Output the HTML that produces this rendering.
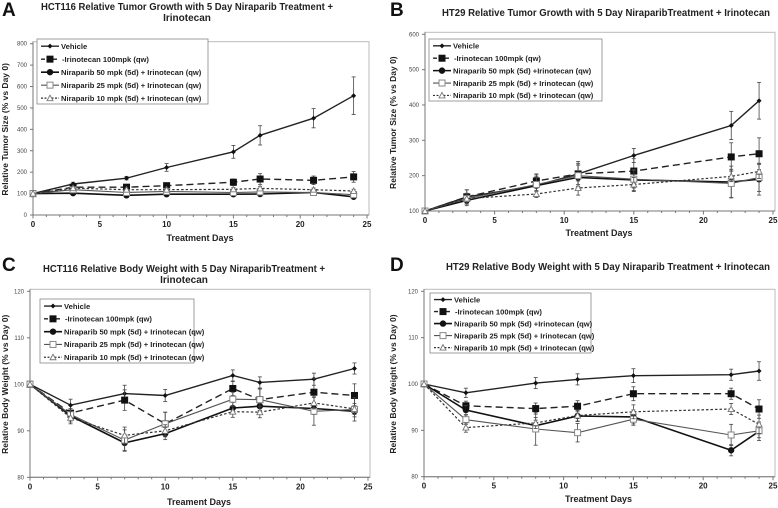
<!DOCTYPE html>
<html><head><meta charset="utf-8"><style>
html,body{margin:0;padding:0;background:#fff;}
svg{display:block;font-family:"Liberation Sans",Arial,sans-serif;}
</style></head><body>
<svg id="fig" width="778" height="508" viewBox="0 0 778 508"></svg>
<script>
// ---- Panel A data ----
const daysA = [0,3,7,10,15,17,21,24];
const aVeh = [100,145,172,222,295,372,452,557];
const aIri = [100,130,130,137,153,168,162,178];
const aN50 = [100,102,92,97,97,98,105,85];
const aN25 = [100,118,105,110,105,108,105,95];
const aN10 = [100,125,118,118,120,124,118,112];
const aVehErr = [0,8,8,18,30,45,45,88];
const aIriErr = [0,10,10,10,15,25,20,25];
const aSmallErr = [0,8,8,8,8,10,8,8];
const aYTicks = [0,100,200,300,400,500,600,700,800];
// ---- Panel B data ----
const daysB = [0,3,8,11,15,22,24];
const bVeh = [100,140,172,205,257,342,412];
const bIri = [100,140,185,205,213,253,262];
const bN50 = [100,130,172,195,188,182,190];
const bN25 = [100,135,175,200,190,178,195];
const bN10 = [100,135,148,165,175,198,212];
const bVehErr = [0,20,30,35,20,40,52];
const bIriErr = [0,20,20,30,35,40,45];
const bN50Err = [0,15,25,35,30,45,45];
const bN25Err = [0,15,20,30,25,40,40];
const bN10Err = [0,15,10,20,20,15,20];
const bYTicks = [100,200,300,400,500,600];
// ---- Panel C data ----
const daysC = [0,3,7,10,15,17,21,24];
const cVeh = [100,95.5,98,97.6,101.9,100.4,101.1,103.4];
const cIri = [100,93.8,96.6,91.5,99.1,96.7,98.3,97.6];
const cN50 = [100,93.2,87.4,89.4,94.9,95.3,94.8,94.2];
const cN25 = [100,93.5,88,91.5,96.8,96.7,94.2,94.6];
const cN10 = [100,92.8,89,90,94.1,94,96,94.7];
const cErr = [0,1.3,1.8,1.3,1.2,1.2,1.3,1.2];
const cErr2 = [0,1,2.2,2.5,1.5,2.3,3,2.5];
// ---- Panel D data ----
const daysD = [0,3,8,11,15,22,24];
const dVeh = [100,98.1,100.2,101,101.8,102,102.8];
const dIri = [100,95.3,94.7,95.2,97.9,97.9,94.6];
const dN50 = [100,94.4,91,93.1,92.9,85.7,89.8];
const dN25 = [100,92.3,90.3,89.5,92.4,89,89.9];
const dN10 = [100,90.6,91.6,93.2,94,94.6,91.3];
const dErr = [0,1,1.2,1.2,1.5,1.2,2];
const dErr2 = [0,1,3.5,2,1.3,2.3,1.5];
const bwYTicks = [80,90,100,110,120];
const xTicks = [0,5,10,15,20,25];
const legendLabels = ["Vehicle","Irinotecan 100mpk (qw)","Niraparib 50 mpk (5d) + Irinotecan (qw)","Niraparib 25 mpk (5d) + Irinotecan (qw)","Niraparib 10 mpk (5d) + Irinotecan (qw)"];
const legendLabelsBD = ["Vehicle","Irinotecan 100mpk (qw)","Niraparib 50 mpk (5d) +Irinotecan (qw)","Niraparib 25 mpk (5d) + Irinotecan (qw)","Niraparib 10 mpk (5d) + Irinotecan (qw)"];

const NS="http://www.w3.org/2000/svg";
const svg=document.getElementById('fig');
function mk(tag,attrs,parent,text){const e=document.createElementNS(NS,tag);for(const k in attrs)e.setAttribute(k,attrs[k]);if(text!==undefined)e.textContent=text;(parent||svg).appendChild(e);return e;}

const styles=[
 {stroke:"#222",w:1.4,dash:"",marker:"diamond"},
 {stroke:"#222",w:1.4,dash:"7,4",marker:"square"},
 {stroke:"#111",w:1.6,dash:"",marker:"circle"},
 {stroke:"#555",w:1.1,dash:"",marker:"opensq"},
 {stroke:"#333",w:1.2,dash:"2.5,2",marker:"tri"}];

function marker(g,type,x,y){
  if(type==="diamond")return mk('path',{d:`M${x} ${y-2.5}L${x+2.5} ${y}L${x} ${y+2.5}L${x-2.5} ${y}Z`,fill:"#111"},g);
  if(type==="square")return mk('rect',{x:x-3.5,y:y-3.5,width:7,height:7,fill:"#111"},g);
  if(type==="circle")return mk('circle',{cx:x,cy:y,r:3.2,fill:"#111"},g);
  if(type==="opensq")return mk('rect',{x:x-3,y:y-3,width:6,height:6,fill:"#fff",stroke:"#888","stroke-width":1},g);
  return mk('path',{d:`M${x} ${y-3}L${x+3} ${y+2.5}L${x-3} ${y+2.5}Z`,fill:"#fff",stroke:"#777","stroke-width":0.9},g);
}

function panel(p){
  const g=mk('g',{});
  
  
  const sx=v=>p.x0+(v-0)/25*(p.x1-p.x0);
  const sy=v=>p.yb+(v-p.ymin)/(p.ymax-p.ymin)*(p.yt-p.yb);
  const fr=mk('rect',{x:sx(0),y:p.yt-2,width:p.x1-sx(0)+2,height:p.yb-p.yt+2,fill:"none",stroke:"#bbb","stroke-width":1},g);
  
  mk('line',{x1:sx(0),y1:p.yt-2,x2:sx(0),y2:p.yb,stroke:"#777","stroke-width":1},g);
  mk('line',{x1:sx(0),y1:p.yb,x2:p.x1+2,y2:p.yb,stroke:"#777","stroke-width":1},g);
  const L=mk('text',{x:p.lx,y:p.ly,"font-size":19,"font-weight":"bold",fill:"#111"},g,p.letter);
  
  p.title.forEach((t,i)=>{const a={x:p.tx,y:p.ty+i*11,"font-size":10,"font-weight":"bold","text-anchor":"middle",fill:"#222"};
    if(i===0&&p.tw){a.textLength=p.tw;a.lengthAdjust="spacingAndGlyphs";}
    const e=mk('text',a,g,t);
    });
  p.yTicks.forEach(v=>{const y=sy(v);mk('line',{x1:sx(0)-3,y1:y,x2:sx(0),y2:y,stroke:"#777"},g);
    const e=mk('text',{x:sx(0)-6,y:y+2,"font-size":6,"text-anchor":"end",fill:"#444"},g,v);
    });
  for(let d=0;d<=25;d++){const x=sx(d);mk('line',{x1:x,y1:p.yb,x2:x,y2:p.yb+(d%5?2:3.5),stroke:"#777"},g);}
  xTicks.forEach(v=>{const e=mk('text',{x:sx(v),y:p.yb+12,"font-size":8,"font-weight":"bold","text-anchor":"middle",fill:"#222"},g,v);
    });
  const xt=mk('text',{x:(sx(0)+p.x1)/2,y:p.xty,"font-size":9,"font-weight":"bold","text-anchor":"middle",fill:"#222"},g,p.xTitle);
  
  const ycx=p.ytx, ycy=(p.yt+p.yb)/2;
  const yt=mk('text',{x:ycx,y:ycy,"font-size":8.5,"font-weight":"bold","text-anchor":"middle",fill:"#222",transform:`rotate(-90 ${ycx} ${ycy})`},g,p.yTitle);
  
  p.series.forEach((s,i)=>{
    const st=styles[i];
    const sg=mk('g',{},g);
    
    s.v.forEach((v,j)=>{const e=s.e[j];if(!e)return;const x=sx(p.days[j]);
      mk('line',{x1:x,y1:sy(v-e),x2:x,y2:sy(v+e),stroke:"#444","stroke-width":0.8},sg);
      mk('line',{x1:x-2,y1:sy(v-e),x2:x+2,y2:sy(v-e),stroke:"#444","stroke-width":0.8},sg);
      mk('line',{x1:x-2,y1:sy(v+e),x2:x+2,y2:sy(v+e),stroke:"#444","stroke-width":0.8},sg);});
    const pts=s.v.map((v,j)=>sx(p.days[j]).toFixed(1)+","+sy(v).toFixed(1)).join(" ");
    const pl=mk('polyline',{points:pts,fill:"none",stroke:st.stroke,"stroke-width":st.w,"stroke-dasharray":st.dash},sg);
    
    s.v.forEach((v,j)=>{const m=marker(sg,st.marker,sx(p.days[j]),sy(v));
      });
  });
  const lg=mk('g',{},g);
  
  mk('rect',{x:p.lg[0],y:p.lg[1],width:p.lg[2],height:p.lg[3],fill:"#fff",stroke:"#888","stroke-width":0.8},lg);
  const rh=p.lg[3]/5;
  p.labels.forEach((t,i)=>{const y=p.lg[1]+rh*(i+0.55);const st=styles[i];const x=p.lg[0]+4;
    const en=mk('g',{},lg);
    mk('line',{x1:x,y1:y,x2:x+18,y2:y,stroke:st.stroke,"stroke-width":st.w,"stroke-dasharray":st.dash?(i==1?"4,2":"2,1.5"):""},en);
    marker(en,st.marker,x+9,y);
    mk('text',{x:x+(i==1?21:20),y:y+2.8,"font-size":7.6,"font-weight":"bold",fill:"#222"},en,(i==1?"-":"")+t);});
}

panel({name:"panel-a",letter:"A",lx:2,ly:16,title:["HCT116 Relative Tumor Growth with 5 Day Niraparib Treatment +","Irinotecan"],tx:187,ty:10,tw:292,
  x0:33,x1:367,yt:43.7,yb:215,ymin:0,ymax:800,yTicks:aYTicks,days:daysA,xTitle:"Treatment Days",xty:241,ytx:8,yTitle:"Relative Tumor Size (% vs Day 0)",
  keys:["vehicle","irinotecan","niraparib-50","niraparib-25","niraparib-10"],labels:legendLabels,lg:[37,39,171,65],
  series:[{v:aVeh,e:aVehErr},{v:aIri,e:aIriErr},{v:aN50,e:aSmallErr},{v:aN25,e:aSmallErr},{v:aN10,e:aSmallErr}]});
panel({name:"panel-b",letter:"B",lx:390,ly:16,title:["HT29 Relative Tumor Growth with 5 Day NiraparibTreatment + Irinotecan"],tx:606,ty:16,tw:328,
  x0:425,x1:773,yt:34.3,yb:211,ymin:100,ymax:600,yTicks:bYTicks,days:daysB,xTitle:"Treatment Days",xty:236,ytx:396,yTitle:"Relative Tumor Size (% vs Day 0)",
  keys:["vehicle","irinotecan","niraparib-50","niraparib-25","niraparib-10"],labels:legendLabelsBD,lg:[429,39,173,62],
  series:[{v:bVeh,e:bVehErr},{v:bIri,e:bIriErr},{v:bN50,e:bN50Err},{v:bN25,e:bN25Err},{v:bN10,e:bN10Err}]});
panel({name:"panel-c",letter:"C",lx:2,ly:271,title:["HCT116 Relative Body Weight with 5 Day NiraparibTreatment +","Irinotecan"],tx:184,ty:272,tw:282,
  x0:30,x1:368,yt:291.3,yb:477.3,ymin:80,ymax:120,yTicks:bwYTicks,days:daysC,xTitle:"Treament Days",xty:505,ytx:8,yTitle:"Relative Body Weight (% vs Day 0)",
  keys:["vehicle","irinotecan","niraparib-50","niraparib-25","niraparib-10"],labels:legendLabels,lg:[40,299,154,64],
  series:[{v:cVeh,e:cErr},{v:cIri,e:cErr2},{v:cN50,e:cErr},{v:cN25,e:cErr2},{v:cN10,e:cErr}]});
panel({name:"panel-d",letter:"D",lx:390,ly:271,title:["HT29 Relative Body Weight with 5 Day Niraparib Treatment +  Irinotecan"],tx:608,ty:270,tw:324,
  x0:424,x1:773,yt:291.3,yb:476.7,ymin:80,ymax:120,yTicks:bwYTicks,days:daysD,xTitle:"Treatment Days",xty:502,ytx:396,yTitle:"Relative Body Weight (% vs Day 0)",
  keys:["vehicle","irinotecan","niraparib-50","niraparib-25","niraparib-10"],labels:legendLabelsBD,lg:[430,293,161,60],
  series:[{v:dVeh,e:dErr},{v:dIri,e:dErr},{v:dN50,e:dErr},{v:dN25,e:dErr2},{v:dN10,e:dErr}]});
</script>
</body></html>
